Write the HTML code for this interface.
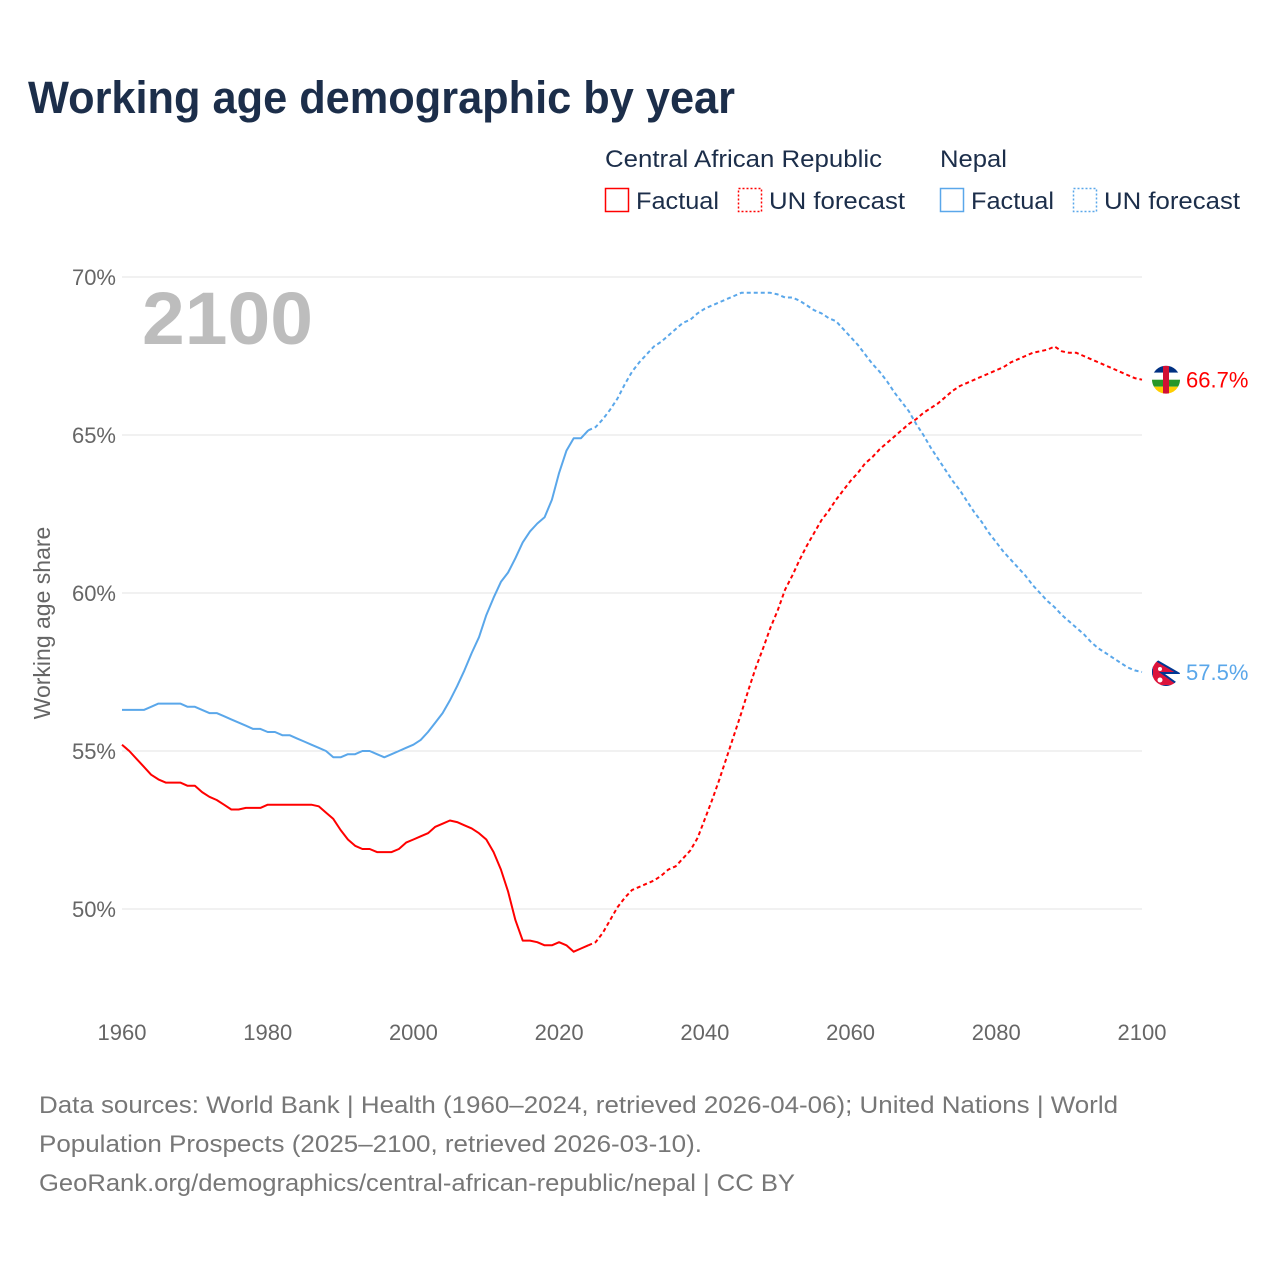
<!DOCTYPE html>
<html><head><meta charset="utf-8"><style>
body{margin:0;background:#fff;font-family:"Liberation Sans",sans-serif}
</style></head><body>
<svg width="1280" height="1280" viewBox="0 0 1280 1280" xmlns="http://www.w3.org/2000/svg" font-family="Liberation Sans, sans-serif">
<text x="28" y="113" font-size="45" font-weight="bold" fill="#1c2e4a" textLength="707" lengthAdjust="spacingAndGlyphs">Working age demographic by year</text>
<g font-size="24" fill="#1c2e4a">
<text x="605" y="167" textLength="277" lengthAdjust="spacingAndGlyphs">Central African Republic</text>
<text x="940" y="167" textLength="67" lengthAdjust="spacingAndGlyphs">Nepal</text>
<g><rect x="605.5" y="188.5" width="23" height="23" fill="none" stroke="#f00" stroke-width="1.5"/><text x="636" y="209" textLength="83" lengthAdjust="spacingAndGlyphs">Factual</text></g>
<g><rect x="738.5" y="188.5" width="23" height="23" fill="none" stroke="#f00" stroke-width="1.5" stroke-dasharray="2,2"/><text x="769" y="209" textLength="136" lengthAdjust="spacingAndGlyphs">UN forecast</text></g>
<g><rect x="940.5" y="188.5" width="23" height="23" fill="none" stroke="#5aa7ea" stroke-width="1.5"/><text x="971" y="209" textLength="83" lengthAdjust="spacingAndGlyphs">Factual</text></g>
<g><rect x="1073.5" y="188.5" width="23" height="23" fill="none" stroke="#5aa7ea" stroke-width="1.5" stroke-dasharray="2,2"/><text x="1104" y="209" textLength="136" lengthAdjust="spacingAndGlyphs">UN forecast</text></g>
</g>
<g id="grid"></g>
<text x="142" y="344" font-size="74" font-weight="bold" fill="#bdbdbd" textLength="171" lengthAdjust="spacingAndGlyphs">2100</text>
<text transform="translate(50,623) rotate(-90)" text-anchor="middle" font-size="23" fill="#666">Working age share</text>
<g id="series"></g>
<g id="flags"></g>
<g font-size="24" fill="#777">
<text x="39" y="1113" textLength="1079" lengthAdjust="spacingAndGlyphs">Data sources: World Bank | Health (1960–2024, retrieved 2026-04-06); United Nations | World</text>
<text x="39" y="1152" textLength="663" lengthAdjust="spacingAndGlyphs">Population Prospects (2025–2100, retrieved 2026-03-10).</text>
<text x="39" y="1191" textLength="756" lengthAdjust="spacingAndGlyphs">GeoRank.org/demographics/central-african-republic/nepal | CC BY</text>
</g>
</svg>
<script>
const yTicks=[50,55,60,65,70];
const xTicks=[1960,1980,2000,2020,2040,2060,2080,2100];
const carFactual=[55.2,55.0,54.75,54.5,54.25,54.1,54.0,54.0,54.0,53.9,53.9,53.7,53.55,53.45,53.3,53.15,53.15,53.2,53.2,53.2,53.3,53.3,53.3,53.3,53.3,53.3,53.3,53.25,53.05,52.85,52.5,52.2,52.0,51.9,51.9,51.8,51.8,51.8,51.9,52.1,52.2,52.3,52.4,52.6,52.7,52.8,52.75,52.65,52.55,52.4,52.2,51.8,51.25,50.55,49.65,49.0,49.0,48.95,48.85,48.85,48.95,48.85,48.65,48.75,48.85];
const carForecast=[48.95,49.25,49.65,50.05,50.35,50.6,50.7,50.8,50.9,51.05,51.25,51.35,51.6,51.85,52.25,52.85,53.45,54.1,54.8,55.5,56.2,56.95,57.65,58.25,58.9,59.45,60.1,60.55,61.05,61.5,61.9,62.3,62.6,62.95,63.25,63.55,63.8,64.1,64.3,64.55,64.75,64.95,65.15,65.35,65.5,65.7,65.85,66.0,66.2,66.4,66.55,66.65,66.75,66.85,66.95,67.05,67.15,67.3,67.4,67.5,67.6,67.65,67.7,67.8,67.65,67.6,67.6,67.5,67.4,67.3,67.2,67.1,67.0,66.9,66.8,66.75];
const nepalFactual=[56.3,56.3,56.3,56.3,56.4,56.5,56.5,56.5,56.5,56.4,56.4,56.3,56.2,56.2,56.1,56.0,55.9,55.8,55.7,55.7,55.6,55.6,55.5,55.5,55.4,55.3,55.2,55.1,55.0,54.8,54.8,54.9,54.9,55.0,55.0,54.9,54.8,54.9,55.0,55.1,55.2,55.35,55.6,55.9,56.2,56.6,57.05,57.55,58.1,58.6,59.3,59.85,60.35,60.65,61.1,61.6,61.95,62.2,62.4,62.95,63.8,64.5,64.9,64.9,65.15];
const nepalForecast=[65.25,65.5,65.8,66.15,66.6,67.0,67.3,67.55,67.8,67.95,68.15,68.35,68.55,68.65,68.85,69.0,69.1,69.2,69.3,69.4,69.5,69.5,69.5,69.5,69.5,69.45,69.35,69.35,69.25,69.1,68.95,68.85,68.7,68.6,68.35,68.1,67.85,67.55,67.25,67.0,66.7,66.35,66.05,65.75,65.35,65.0,64.6,64.25,63.9,63.55,63.25,62.9,62.55,62.25,61.9,61.6,61.3,61.05,60.8,60.55,60.25,60.0,59.75,59.55,59.3,59.1,58.9,58.7,58.45,58.25,58.1,57.95,57.8,57.65,57.55,57.5];
const endLabels=["66.7%","57.5%"];
const NS="http://www.w3.org/2000/svg";
const X=y=>122+(y-1960)*1020/140;
const Y=v=>909-(v-50)*31.6;
function mk(t,a,p){const e=document.createElementNS(NS,t);for(const k in a)e.setAttribute(k,a[k]);p.appendChild(e);return e;}
const grid=document.getElementById('grid');
yTicks.forEach(t=>{
 const l=mk('line',{x1:122,x2:1142,y1:Y(t),y2:Y(t),stroke:'#e3e3e3','stroke-width':1},grid);
 
 
 const tx=mk('text',{x:116,y:Y(t)+8,'text-anchor':'end','font-size':22,fill:'#666'},grid);
 tx.textContent=t+'%';
 
 
});
xTicks.forEach(t=>{
 const tx=mk('text',{x:X(t),y:1040,'text-anchor':'middle','font-size':22,fill:'#666'},grid);
 tx.textContent=t;
 
 
});
const s=document.getElementById('series');
function line(data,start,color,dash,name,prev){
 let pts=data.map((v,i)=>[X(start+i),Y(v)]);
 if(prev!==undefined) pts.unshift([X(start-1),Y(prev)]);
 const d=pts.map((p,i)=>(i?'L':'M')+p[0].toFixed(1)+','+p[1].toFixed(1)).join('');
 const p=mk('path',{d:d,fill:'none',stroke:color,'stroke-width':2,'stroke-dasharray':dash||'none','stroke-linejoin':'round'},s);
 
 
}
line(carFactual,1960,'#f00',null,'car-factual-line');
line(carForecast,2025,'#f00','4,3','car-forecast-line',carFactual[carFactual.length-1]);
line(nepalFactual,1960,'#5aa7ea',null,'nepal-factual-line');
line(nepalForecast,2025,'#5aa7ea','4,3','nepal-forecast-line',nepalFactual[nepalFactual.length-1]);
const f=document.getElementById('flags');
const cy1=Y(carForecast[carForecast.length-1]), cy2=Y(nepalForecast[nepalForecast.length-1]);
f.innerHTML=`<defs><clipPath id="c1"><circle cx="1166" cy="${cy1}" r="14"/></clipPath><clipPath id="c2"><circle cx="1166" cy="${cy2}" r="14"/></clipPath></defs>
<g clip-path="url(#c1)"><rect x="1152" y="${cy1-14}" width="28" height="7" fill="#003082"/><rect x="1152" y="${cy1-7}" width="28" height="7" fill="#fff"/><rect x="1152" y="${cy1}" width="28" height="7" fill="#289728"/><rect x="1152" y="${cy1+7}" width="28" height="7" fill="#ffce00"/><rect x="1163" y="${cy1-14}" width="6" height="28" fill="#d21034"/></g>
<g clip-path="url(#c2)"><rect x="1152" y="${cy2-14}" width="28" height="28" fill="#fff"/><path d="M1152 ${cy2-14} L1178 ${cy2+1} L1162 ${cy2+1} L1180 ${cy2+14} L1152 ${cy2+14}Z" fill="#dc143c" stroke="#003893" stroke-width="2"/><circle cx="1160" cy="${cy2-3}" r="2" fill="#fff"/><circle cx="1160" cy="${cy2+8}" r="2.5" fill="#fff"/></g>`;
const l1=mk('text',{x:1186,y:cy1+8,'font-size':22,fill:'#f00'},f);l1.textContent=endLabels[0];


const l2=mk('text',{x:1186,y:cy2+8,'font-size':22,fill:'#5aa7ea'},f);l2.textContent=endLabels[1];


</script>
</body></html>
